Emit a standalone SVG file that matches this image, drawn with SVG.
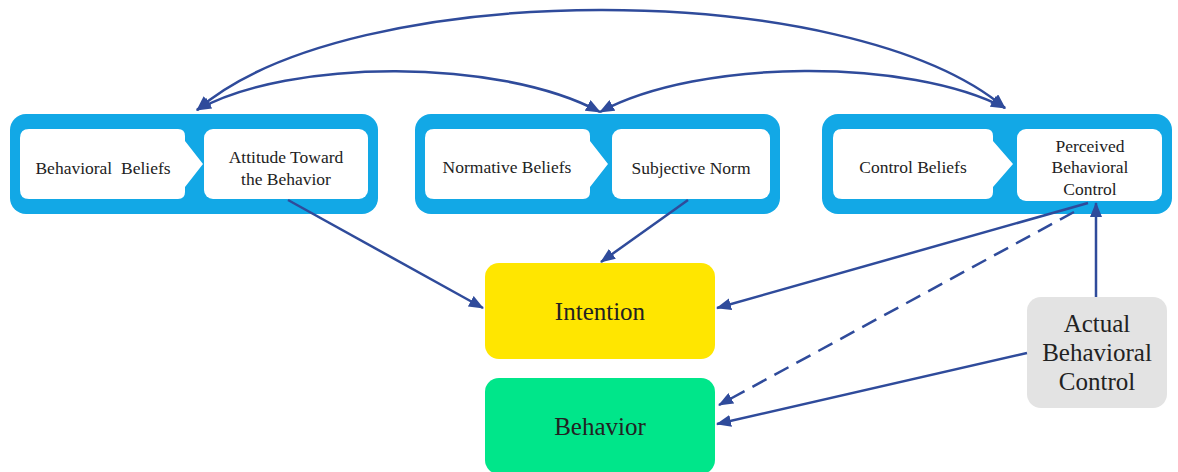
<svg xmlns="http://www.w3.org/2000/svg" width="1178" height="472" viewBox="0 0 1178 472">
<defs>
<marker id="ah" markerUnits="userSpaceOnUse" markerWidth="15" markerHeight="12" refX="14" refY="6" orient="auto-start-reverse" viewBox="0 0 15 12">
<path d="M0,0 L15,6 L0,12 z" fill="#2F4B9B"/>
</marker>
<style>
.cont{fill:#12A8E6}
.wb{fill:#ffffff}
.t{font-family:'Liberation Serif','Times New Roman',serif;font-size:17.5px;fill:#222;text-anchor:middle}
.big{font-family:'Liberation Serif','Times New Roman',serif;font-size:25px;fill:#222;text-anchor:middle}
.c{fill:none;stroke:#2F4B9B;stroke-width:2.5;marker-end:url(#ah)}
.arc{fill:none;stroke:#2F4B9B;stroke-width:2.5;marker-start:url(#ah);marker-end:url(#ah)}
</style>
</defs>
<rect width="1178" height="472" fill="#ffffff"/>

<g id="group-attitude">
<rect class="cont" x="10" y="114" width="368" height="100" rx="16"/>
<g id="behavioral-beliefs">
<path class="wb" d="M29,129 L178,129 Q185,129 185,136 L185,141 L203,164 L185,187 L185,192 Q185,199 178,199 L29,199 Q20,199 20,190 L20,138 Q20,129 29,129 z"/>
<text class="t" x="103" y="174" xml:space="preserve">Behavioral  Beliefs</text>
</g>
<g id="attitude">
<rect class="wb" x="204" y="129" width="164" height="70" rx="9"/>
<text class="t" x="286" y="163">Attitude Toward</text>
<text class="t" x="286" y="185">the Behavior</text>
</g>
</g>

<g id="group-norm">
<rect class="cont" x="415" y="114" width="365" height="100" rx="16"/>
<g id="normative-beliefs">
<path class="wb" d="M434,129 L583,129 Q590,129 590,136 L590,141 L608,164 L590,187 L590,192 Q590,199 583,199 L434,199 Q425,199 425,190 L425,138 Q425,129 434,129 z"/>
<text class="t" x="507" y="173">Normative Beliefs</text>
</g>
<g id="subjective-norm">
<rect class="wb" x="612" y="129" width="158" height="70" rx="9"/>
<text class="t" x="691" y="174">Subjective Norm</text>
</g>
</g>

<g id="group-control">
<rect class="cont" x="822" y="114" width="350" height="100" rx="16"/>
<g id="control-beliefs">
<path class="wb" d="M842,129 L986,129 Q993,129 993,136 L993,141 L1013,164 L993,187 L993,192 Q993,199 986,199 L842,199 Q833,199 833,190 L833,138 Q833,129 842,129 z"/>
<text class="t" x="913" y="173">Control Beliefs</text>
</g>
<g id="perceived-behavioral-control">
<rect class="wb" x="1017" y="129" width="145" height="72" rx="9"/>
<text class="t" x="1090" y="152">Perceived</text>
<text class="t" x="1090" y="173">Behavioral</text>
<text class="t" x="1090" y="195">Control</text>
</g>
</g>

<g id="intention">
<rect x="485" y="263" width="230" height="96" rx="14" fill="#FFE600"/>
<text class="big" x="600" y="320">Intention</text>
</g>

<g id="behavior">
<rect x="485" y="378" width="230" height="96" rx="14" fill="#00E68A"/>
<text class="big" x="600" y="435">Behavior</text>
</g>

<g id="actual-behavioral-control">
<rect x="1027" y="297" width="140" height="111" rx="14" fill="#E3E3E3"/>
<text class="big" x="1097" y="332">Actual</text>
<text class="big" x="1097" y="361">Behavioral</text>
<text class="big" x="1097" y="390">Control</text>
</g>

<g id="connectors">
<path class="arc" d="M197,110 C350,-23 850,-23 1005,108"/>
<path class="arc" d="M197,110 C290,58 500,58 600,112"/>
<path class="arc" d="M600,112 C700,58 910,58 1005,108"/>
<path class="c" d="M288,200 L483,308"/>
<path class="c" d="M688,200 L601,262"/>
<path class="c" d="M1088,203 L717,308"/>
<path class="c" d="M1074,212 L719,405" stroke-dasharray="16,9"/>
<path class="c" d="M1027,353 L717,424"/>
<path class="c" d="M1096,297 L1096,203"/>
</g>
</svg>
